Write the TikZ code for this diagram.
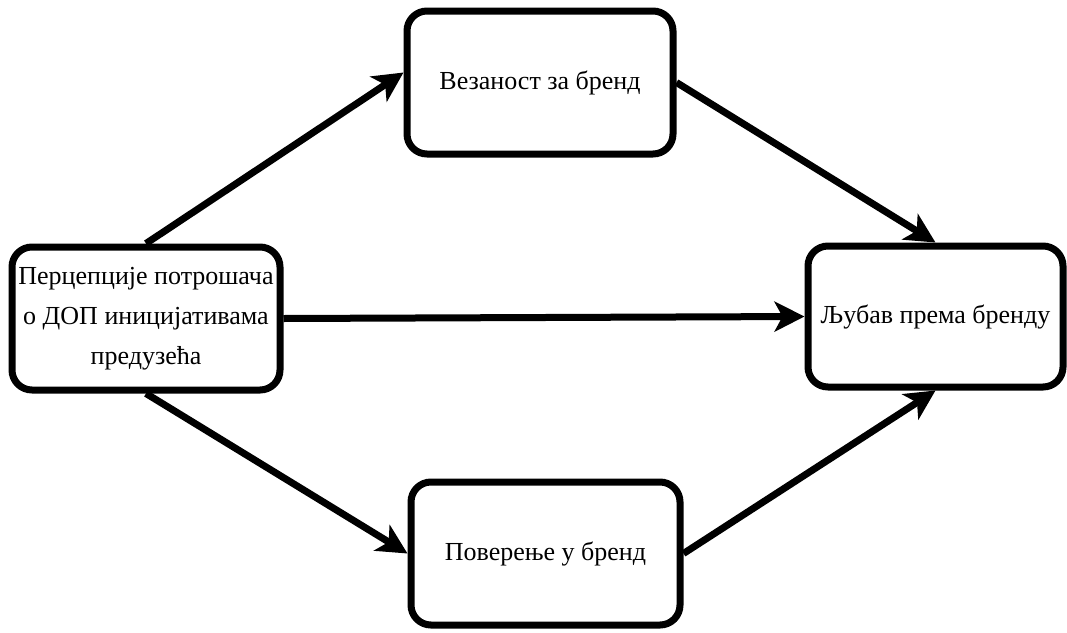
\documentclass[tikz,border=0pt]{standalone}
\usepackage{fontspec}
\setmainfont{Liberation Serif}
\usetikzlibrary{arrows.meta}
\begin{document}
\begin{tikzpicture}[x=1pt,y=-1pt,
  box/.style={draw=black, line width=7pt, rounded corners=20pt, fill=white,
    align=center, font=\fontsize{26}{40}\selectfont, inner sep=0pt},
  link/.style={line width=7pt, -{Stealth[length=30pt,width=30pt,inset=8pt]}}]
  \useasboundingbox (0,0) rectangle (1067,632);
  % the four constructs of the model
  \node[box, minimum width=268pt, minimum height=143pt] (L) at (146,318.5)
    {Перцепције потрошача\\о ДОП иницијативама\\предузећа};
  \node[box, minimum width=266pt, minimum height=143pt] (T) at (540,82.5)
    {Везаност за бренд};
  \node[box, minimum width=269pt, minimum height=143pt] (B) at (545.5,553.5)
    {Поверење у бренд};
  \node[box, minimum width=255pt, minimum height=141pt] (R) at (935.5,316.5)
    {Љубав према бренду};
  % paths between the constructs
  \draw[link] (L.north) -- ([yshift=10pt]T.west);
  \draw[link] (T.east) -- (R.north);
  \draw[link] (L.east) -- (R.west);
  \draw[link] (L.south) -- (B.west);
  \draw[link] (B.east) -- (R.south);
\end{tikzpicture}
\end{document}
